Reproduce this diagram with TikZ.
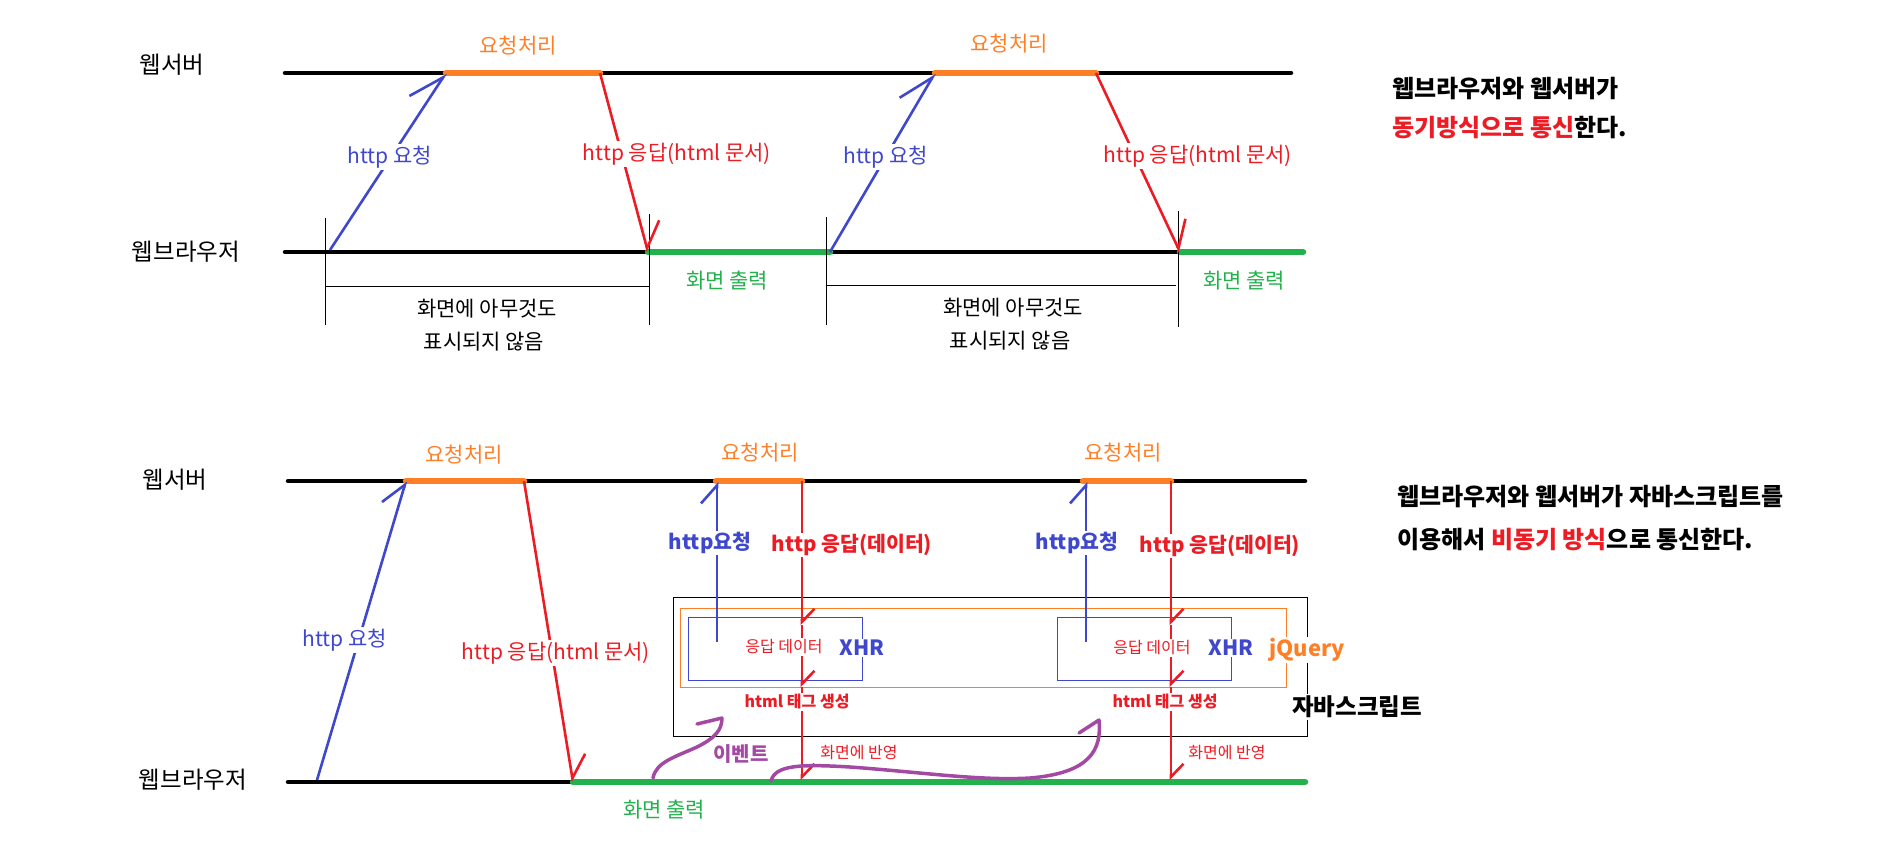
\documentclass[tikz,border=0pt]{standalone}
\usepackage{fontspec}
\setmainfont{Noto Sans CJK KR}
\usetikzlibrary{arrows.meta}
\definecolor{pblue}{HTML}{3F48CC}
\definecolor{pred}{HTML}{ED1C24}
\definecolor{porange}{HTML}{FF7F27}
\definecolor{pgreen}{HTML}{22B14C}
\definecolor{ppurple}{HTML}{A349A4}
\tikzset{
  axisline/.style={line width=4.5pt,line cap=round},
  colbar/.style={line width=6.5pt,line cap=round},
  arrline/.style={line width=2.6pt},
  thinline/.style={line width=1pt},
  purpline/.style={ppurple,line width=3.5pt,line cap=round,line join=round},
  lab/.style={inner sep=1.5pt,font=\fontsize{21}{24}\selectfont},
  biglab/.style={inner sep=1pt,font=\fontsize{23.5}{26}\selectfont},
  smalllab/.style={inner sep=1.5pt,font=\fontsize{16}{19}\selectfont},
  boldlab/.style={inner sep=1.5pt,font=\fontsize{20.5}{23}\selectfont\bfseries},
  sboldlab/.style={inner sep=1.5pt,font=\fontsize{16}{19}\selectfont\bfseries},
  notelab/.style={inner sep=0pt,anchor=west,font=\fontsize{24}{28}\selectfont\bfseries},
  wfill/.style={fill=white},
  tipTB/.style={-{Straight Barb[harpoon,length=34pt,width=36pt]}},
  tipTR/.style={-{Straight Barb[harpoon,length=24pt,width=38pt]}},
  tipBB/.style={-{Straight Barb[harpoon,length=23pt,width=34pt]}},
  tipBR/.style={-{Straight Barb[harpoon,length=22pt,width=33pt]}},
  tipVB/.style={-{Straight Barb[harpoon,length=18pt,width=32pt]}},
  tipVR/.style={-{Straight Barb[harpoon,length=13pt,width=25pt]}},
}
\begin{document}
\begin{tikzpicture}[x=1pt,y=-1pt]
\useasboundingbox (0,0) rectangle (1900,852);

% ================= TOP DIAGRAM =================
\coordinate (tsA) at (285,73);
\coordinate (tsE) at (1291,73);
\coordinate (to1a) at (446,73);
\coordinate (to1b) at (600,73);
\coordinate (to2a) at (935,73);
\coordinate (to2b) at (1096,73);
\coordinate (tbA) at (285,252);
\coordinate (tg1a) at (648,252);
\coordinate (tg1b) at (830,252);
\coordinate (tg2a) at (1180,252);
\coordinate (tg2b) at (1303,252);
\coordinate (tq1) at (330,250);

\draw[axisline] (tsA) -- (tsE);
\draw[colbar,porange] (to1a) -- (to1b);
\draw[colbar,porange] (to2a) -- (to2b);
\draw[axisline] (tbA) -- (tg2a);
\draw[colbar,pgreen] (tg1a) -- (tg1b);
\draw[colbar,pgreen] (tg2a) -- (tg2b);

% brackets
\coordinate (k1t) at (325,218); \coordinate (k1b) at (325,325);
\coordinate (k2t) at (649,214); \coordinate (k2b) at (649,325);
\coordinate (k3t) at (826,217); \coordinate (k3b) at (826,325);
\coordinate (k4t) at (1178,211); \coordinate (k4b) at (1178,327);
\coordinate (h1a) at (325,286); \coordinate (h1b) at (649,286);
\coordinate (h2a) at (826,285); \coordinate (h2b) at (1176,285);
\draw[thinline] (k1t) -- (k1b);
\draw[thinline] (k2t) -- (k2b);
\draw[thinline] (k3t) -- (k3b);
\draw[thinline] (k4t) -- (k4b);
\draw[thinline] (h1a) -- (h1b);
\draw[thinline] (h2a) -- (h2b);

% arrows
\draw[arrline,pblue,tipTB] (tq1) -- (to1a);
\draw[arrline,pred,tipTR] (to1b) -- (tg1a);
\draw[arrline,pblue,tipTB] (tg1b) -- (to2a);
\draw[arrline,pred,tipTR] (to2b) -- (tg2a);

% labels
\node[biglab] (tserv) at (172,65) {웹서버};
\node[biglab] (tbrow) at (186,252) {웹브라우저};
\node[lab,text=porange] (tp1) at (518,46) {요청처리};
\node[lab,text=porange] (tp2) at (1009,44) {요청처리};
\node[lab,wfill,text=pblue] (treq1) at (390,157) {http 요청};
\node[lab,wfill,text=pred] (tres1) at (677,154) {http 응답(html 문서)};
\node[lab,wfill,text=pblue] (treq2) at (886,157) {http 요청};
\node[lab,wfill,text=pred] (tres2) at (1198,156) {http 응답(html 문서)};
\node[lab,text=pgreen] (tout1) at (727,281) {화면 출력};
\node[lab,text=pgreen] (tout2) at (1244,281) {화면 출력};
\node[lab] (tn1a) at (487,309) {화면에 아무것도};
\node[lab] (tn1b) at (484,342) {표시되지 않음};
\node[lab] (tn2a) at (1013,308) {화면에 아무것도};
\node[lab] (tn2b) at (1010,341) {표시되지 않음};

\node[notelab] (tnote1) at (1392,89) {웹브라우저와 웹서버가};
\node[notelab] (tnote2) at (1392,128) {\textcolor{pred}{동기방식으로 통신}한다.};

% ================= BOTTOM DIAGRAM =================
\coordinate (bsA) at (288,481);
\coordinate (bsE) at (1305,481);
\coordinate (bo1a) at (406,481);
\coordinate (bo1b) at (524,481);
\coordinate (bo2a) at (716,481);
\coordinate (bo2b) at (802,481);
\coordinate (bo3a) at (1083,481);
\coordinate (bo3b) at (1171,481);
\coordinate (bbA) at (288,782);
\coordinate (bgA) at (573,782);
\coordinate (bgE) at (1305,782);
\coordinate (bq1) at (317,780);

% boxes
\draw[thinline] (673,597) rectangle (1307,736);
\draw[thinline,porange] (680,608) rectangle (1286,687);
\draw[thinline,pblue] (688,617) rectangle (862,680);
\draw[thinline,pblue] (1057,617) rectangle (1231,680);

\draw[axisline] (bsA) -- (bsE);
\draw[colbar,porange] (bo1a) -- (bo1b);
\draw[colbar,porange] (bo2a) -- (bo2b);
\draw[colbar,porange] (bo3a) -- (bo3b);
\draw[axisline] (bbA) -- (bgA);
\draw[colbar,pgreen] (bgA) -- (bgE);

% diagonal arrows
\draw[arrline,pblue,tipBB] (bq1) -- (bo1a);
\draw[arrline,pred,tipBR] (bo1b) -- (bgA);

% vertical arrows, group 1
\coordinate (v1s) at (717,642);
\coordinate (v1e) at (717,482);
\coordinate (r1a) at (802,625);
\coordinate (r1b) at (802,687);
\coordinate (r1c) at (802,780);
\draw[arrline,pblue,tipVB] (v1s) -- (v1e);
\draw[arrline,pred,tipVR] (bo2b) -- (r1a);
\draw[arrline,pred,tipVR] (r1a) -- (r1b);
\draw[arrline,pred,tipVR] (r1b) -- (r1c);

% vertical arrows, group 3
\coordinate (v3s) at (1086,642);
\coordinate (v3e) at (1086,482);
\coordinate (r3a) at (1171,625);
\coordinate (r3b) at (1171,687);
\coordinate (r3c) at (1171,780);
\draw[arrline,pblue,tipVB] (v3s) -- (v3e);
\draw[arrline,pred,tipVR] (bo3b) -- (r3a);
\draw[arrline,pred,tipVR] (r3a) -- (r3b);
\draw[arrline,pred,tipVR] (r3b) -- (r3c);

% purple event curves
\draw[purpline] (653,778) .. controls (656,762) and (675,757) .. (697,747)
   .. controls (715,738) and (722,730) .. (722,718) -- (697,724);
\draw[purpline] (771,781) .. controls (775,765) and (800,764) .. (850,767)
   .. controls (920,772) and (980,781) .. (1030,778)
   .. controls (1090,773) and (1102,750) .. (1099,720) -- (1079,733);

% labels
\node[biglab] (bserv) at (175,480) {웹서버};
\node[biglab] (bbrow) at (193,780) {웹브라우저};
\node[lab,text=porange] (bp1) at (464,455) {요청처리};
\node[lab,text=porange] (bp2) at (760,453) {요청처리};
\node[lab,text=porange] (bp3) at (1123,453) {요청처리};
\node[lab,wfill,text=pblue] (breq) at (345,640) {http 요청};
\node[lab,wfill,text=pred] (bres) at (556,653) {http 응답(html 문서)};
\node[lab,text=pgreen] (bout) at (664,810) {화면 출력};

\node[boldlab,wfill,text=pblue] (req1) at (710,543) {http요청};
\node[boldlab,wfill,text=pred] (res1) at (852,545) {http 응답(데이터)};
\node[smalllab,wfill,text=pred] (dat1) at (784,647) {응답 데이터};
\node[inner sep=1.5pt,wfill,text=pblue,font=\fontsize{21}{24}\selectfont\bfseries] (xhr1) at (862,648) {XHR};
\node[sboldlab,wfill,text=pred] (tag1) at (797,702) {html 태그 생성};
\node[smalllab,text=pred] (ref1) at (859,752) {화면에 반영};

\node[boldlab,wfill,text=pblue] (req3) at (1077,543) {http요청};
\node[boldlab,wfill,text=pred] (res3) at (1220,546) {http 응답(데이터)};
\node[smalllab,wfill,text=pred] (dat3) at (1152,648) {응답 데이터};
\node[inner sep=1.5pt,wfill,text=pblue,font=\fontsize{21}{24}\selectfont\bfseries] (xhr3) at (1231,648) {XHR};
\node[sboldlab,wfill,text=pred] (tag3) at (1165,702) {html 태그 생성};
\node[smalllab,text=pred] (ref3) at (1227,752) {화면에 반영};

\node[inner sep=1.5pt,wfill,text=porange,font=\fontsize{22}{25}\selectfont\bfseries] (jq) at (1307,650) {jQuery};
\node[inner sep=2pt,wfill,font=\fontsize{23.5}{26}\selectfont\bfseries] (js) at (1357,707) {자바스크립트};
\node[inner sep=1pt,text=ppurple,font=\fontsize{20}{23}\selectfont\bfseries] (evt) at (741,754) {이벤트};

\node[notelab] (bnote1) at (1397,497) {웹브라우저와 웹서버가 자바스크립트를};
\node[notelab] (bnote2) at (1397,540) {이용해서 \textcolor{pred}{비동기 방식}으로 통신한다.};
\end{tikzpicture}
\end{document}
